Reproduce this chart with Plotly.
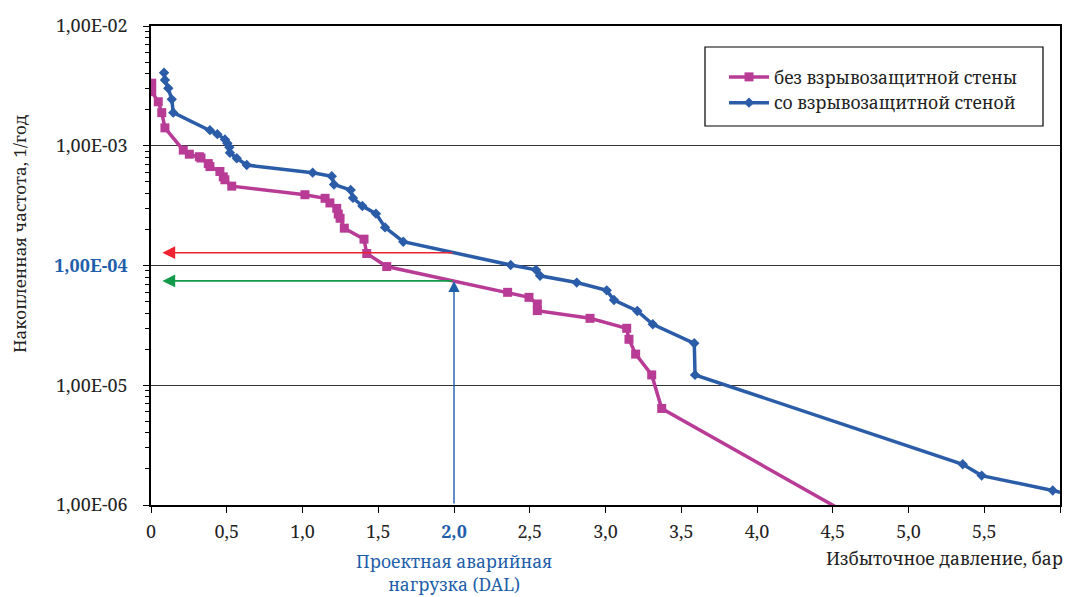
import numpy as np
import plotly.graph_objects as go

# ---- data ----
series_names = ["без взрывозащитной стены", "со взрывозащитной стеной"]

no_wall_x = [0.005, 0.005, 0.048, 0.071, 0.092, 0.213, 0.253, 0.319, 0.330, 0.378,
             0.389, 0.455, 0.477, 0.488, 0.533, 1.016, 1.149, 1.181, 1.226, 1.236,
             1.248, 1.276, 1.406, 1.424, 1.556, 2.354, 2.495, 2.550, 2.550, 2.898,
             3.140, 3.155, 3.199, 3.305, 3.371, 4.750]
no_wall_y = [3.33e-3, 2.83e-3, 2.33e-3, 1.89e-3, 1.41e-3, 9.2e-4, 8.5e-4, 8.1e-4, 7.9e-4, 7.1e-4,
             6.7e-4, 6.1e-4, 5.5e-4, 5.2e-4, 4.6e-4, 3.9e-4, 3.64e-4, 3.33e-4, 3.0e-4, 2.69e-4,
             2.48e-4, 2.05e-4, 1.66e-4, 1.26e-4, 9.8e-5, 5.97e-5, 5.42e-5, 4.77e-5, 4.2e-5, 3.62e-5,
             2.99e-5, 2.42e-5, 1.82e-5, 1.22e-5, 6.4e-6, 6.6e-7]

wall_x = [0.086, 0.092, 0.114, 0.137, 0.147, 0.389, 0.438, 0.488, 0.504, 0.517,
          0.521, 0.566, 0.632, 1.067, 1.193, 1.208, 1.318, 1.333, 1.395, 1.485,
          1.545, 1.665, 2.374, 2.541, 2.568, 2.810, 3.008, 3.056, 3.210, 3.312,
          3.586, 3.591, 5.358, 5.483, 5.952, 6.100]
wall_y = [4.07e-3, 3.54e-3, 3.02e-3, 2.44e-3, 1.89e-3, 1.35e-3, 1.25e-3, 1.13e-3, 1.05e-3, 9.7e-4,
          8.75e-4, 7.86e-4, 6.9e-4, 5.96e-4, 5.56e-4, 4.75e-4, 4.27e-4, 3.67e-4, 3.14e-4, 2.71e-4,
          2.08e-4, 1.58e-4, 1.01e-4, 9.2e-5, 8.2e-5, 7.2e-5, 6.2e-5, 5.15e-5, 4.17e-5, 3.23e-5,
          2.24e-5, 1.22e-5, 2.19e-6, 1.76e-6, 1.32e-6, 1.20e-6]

dal_x = 2.0
arrow_end_x = 0.075

x_tickvals = [0, 0.5, 1.0, 1.5, 2.0, 2.5, 3.0, 3.5, 4.0, 4.5, 5.0, 5.5, 6.0]
x_ticktext = ["0", "0,5", "1,0", "1,5", "2,0", "2,5", "3,0", "3,5", "4,0", "4,5", "5,0", "5,5", "6,0"]
y_tickvals = [1e-2, 1e-3, 1e-4, 1e-5, 1e-6]
y_ticktext = ["1,00E-02", "1,00E-03", "1,00E-04", "1,00E-05", "1,00E-06"]
highlight_x = "2,0"
highlight_y = "1,00E-04"

# ---- styles ----
FONT = "Noto Serif, DejaVu Serif"
TICK_SIZE = 18
TEXT_SIZE = 17.5
MAGENTA = "#B83C96"
BLUE = "#2A5CA8"
RED = "#EE2230"
GREEN = "#129A4A"
HL = "#1F5FAA"
TXT = "#222222"

# page body has an 8px margin: the figure is shifted by it
W, H = 1059, 589
L, T = 143, 18
PW, PH = 909, 479

def hl(t, key):
    return f"<b><span style='color:{HL}'>{t}</span></b>" if t == key else t

fig = go.Figure()
fig.add_trace(go.Scatter(x=no_wall_x, y=no_wall_y, mode="lines+markers", name=series_names[0],
                         line=dict(color=MAGENTA, width=3.5),
                         marker=dict(symbol="square", size=9, color=MAGENTA)))
fig.add_trace(go.Scatter(x=wall_x, y=wall_y, mode="lines+markers", name=series_names[1],
                         line=dict(color=BLUE, width=3.5),
                         marker=dict(symbol="diamond", size=8, color=BLUE)))

lvl_wall = np.interp(dal_x, wall_x, np.log10(wall_y))
lvl_nowall = np.interp(dal_x, no_wall_x, np.log10(no_wall_y))

minor_vals = [m * 10.0 ** e for e in range(-6, -2) for m in range(2, 10)]

fig.update_xaxes(range=[0, 6], tickvals=x_tickvals,
                 ticktext=[hl(t, highlight_x) for t in x_ticktext],
                 ticks="outside", ticklen=6, tickcolor="black", tickwidth=1.2,
                 showline=True, linecolor="black", linewidth=1.5, mirror=True,
                 showgrid=False, zeroline=False, ticklabelstandoff=4, automargin=False,
                 tickfont=dict(family=FONT, size=TICK_SIZE, color=TXT))
fig.update_yaxes(type="log", range=[-6, -2], tickvals=y_tickvals,
                 ticktext=[hl(t, highlight_y) for t in y_ticktext],
                 ticks="outside", ticklen=6, tickcolor="black", tickwidth=1.2,
                 showline=True, linecolor="black", linewidth=1.5, mirror=True,
                 showgrid=True, gridcolor="#333333", gridwidth=1.2, zeroline=False,
                 ticklabelstandoff=12, automargin=False,
                 minor=dict(tickvals=minor_vals, ticks="outside", ticklen=4,
                            tickcolor="black", tickwidth=1, showgrid=False),
                 tickfont=dict(family=FONT, size=TICK_SIZE, color=TXT))

def px_x(p):
    return (p - 8 - L) / PW

def px_y(p):
    return (T + PH - (p - 8)) / PH

ann = []
ann.append(dict(x=arrow_end_x, y=lvl_wall, ax=dal_x, ay=lvl_wall, xref="x", yref="y",
                axref="x", ayref="y", text="", showarrow=True, arrowhead=2,
                arrowsize=1.6, arrowwidth=1.6, arrowcolor=RED))
ann.append(dict(x=arrow_end_x, y=lvl_nowall, ax=dal_x, ay=lvl_nowall, xref="x", yref="y",
                axref="x", ayref="y", text="", showarrow=True, arrowhead=2,
                arrowsize=1.6, arrowwidth=1.6, arrowcolor=GREEN))
ann.append(dict(x=dal_x, y=lvl_nowall, ax=dal_x, ay=-6, xref="x", yref="y",
                axref="x", ayref="y", text="", showarrow=True, arrowhead=2,
                arrowsize=1.6, arrowwidth=1.4, arrowcolor=HL))
ann.append(dict(x=dal_x, y=px_y(572), xref="x", yref="paper", showarrow=False,
                text="Проектная аварийная<br>нагрузка (DAL)",
                font=dict(family=FONT, size=TEXT_SIZE, color=HL), xanchor="center", yanchor="middle"))
ann.append(dict(x=px_x(1065), y=px_y(558), xref="paper", yref="paper", showarrow=False,
                text="Избыточное давление, бар",
                font=dict(family=FONT, size=TEXT_SIZE, color=TXT), xanchor="right", yanchor="middle"))
ann.append(dict(x=px_x(19), y=px_y(234), xref="paper", yref="paper", showarrow=False,
                text="Накопленная частота, 1/год", textangle=-90,
                font=dict(family=FONT, size=17, color=TXT), xanchor="center", yanchor="middle"))

shapes = [dict(type="rect", xref="paper", yref="paper",
               x0=px_x(705), x1=px_x(1043), y0=px_y(126), y1=px_y(47),
               line=dict(color="black", width=1.2), fillcolor="white", layer="below")]

fig.update_layout(width=W, height=H,
                  margin=dict(l=L, r=W - L - PW, t=T, b=H - T - PH, autoexpand=False),
                  plot_bgcolor="white", paper_bgcolor="white",
                  font=dict(family=FONT, size=TEXT_SIZE, color=TXT),
                  annotations=ann, shapes=shapes, showlegend=True,
                  legend=dict(x=px_x(724), y=px_y(59), xanchor="left", yanchor="top",
                              bgcolor="rgba(0,0,0,0)", borderwidth=0, itemwidth=40,
                              font=dict(family=FONT, size=TEXT_SIZE, color=TXT), tracegroupgap=0))

fig.write_html("out.html")
